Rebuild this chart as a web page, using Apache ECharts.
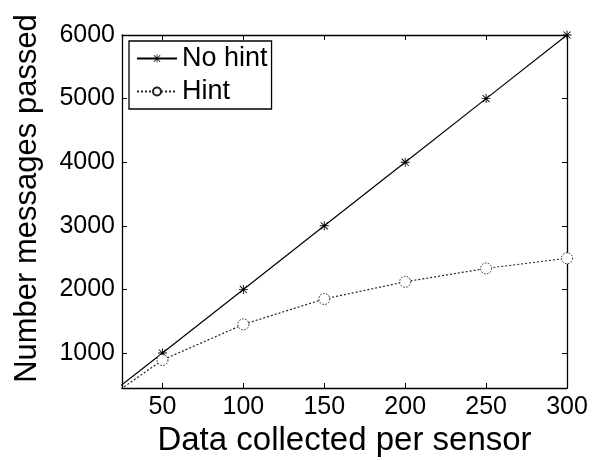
<!DOCTYPE html>
<html>
<head>
<meta charset="utf-8">
<script src="https://cdn.jsdelivr.net/npm/echarts@6/dist/echarts.min.js"></script>
<style>
  html, body { margin: 0; padding: 0; background: #fff; }
  #chart { width: 594px; height: 460px; }
</style>
</head>
<body>
<div id="chart"></div>
<script>
// Data collected per sensor (x) vs. number of messages passed (y)
const dataPerSensor = [0, 50, 100, 150, 200, 250, 300];
const noHint = [0, 1000, 2000, 3000, 4000, 5000, 6000];
const hint = [0, 890, 1450, 1850, 2120, 2330, 2490];
const xTicks = [50, 100, 150, 200, 250, 300];
const yTicks = [1000, 2000, 3000, 4000, 5000, 6000];

const FONT = '"Liberation Sans", Arial, Helvetica, sans-serif';

// asterisk marker: + and x bars overlaid
const asterisk = 'path://M9 0L11 0L11 20L9 20Z M0 9L20 9L20 11L0 11Z ' +
  'M1.4 2.8L2.8 1.4L18.6 17.2L17.2 18.6Z M17.2 1.4L18.6 2.8L2.8 18.6L1.4 17.2Z';

const pairs = (ys) => dataPerSensor.map((x, i) => [x, ys[i]]);
const plain = (v) => String(v);

const axisLine = { show: true, onZero: false, lineStyle: { color: '#000', width: 1.3 } };
const tick = (vals) => ({ show: true, inside: true, length: 5, customValues: vals,
  lineStyle: { color: '#000', width: 1 } });

const chart = echarts.init(document.getElementById('chart'), null, { renderer: 'canvas' });
chart.setOption({
  animation: false,
  backgroundColor: '#fff',
  grid: { left: 122, right: 27, top: 35, bottom: 72, outerBoundsMode: 'none', containLabel: false },
  xAxis: [
    {
      type: 'value', min: 25, max: 300, position: 'bottom',
      axisLine: axisLine, axisTick: tick(xTicks), splitLine: { show: false },
      axisLabel: { customValues: xTicks, formatter: plain, color: '#000', fontFamily: FONT, fontSize: 25, margin: 7 },
      name: 'Data collected per sensor', nameLocation: 'middle', nameGap: 28,
      nameTextStyle: { color: '#000', fontFamily: FONT, fontSize: 33 }
    },
    {
      type: 'value', min: 25, max: 300, position: 'top',
      axisLine: axisLine, axisTick: tick(xTicks), splitLine: { show: false },
      axisLabel: { show: false }
    }
  ],
  yAxis: [
    {
      type: 'value', min: 450, max: 6000, position: 'left',
      axisLine: axisLine, axisTick: tick(yTicks), splitLine: { show: false },
      axisLabel: { customValues: yTicks, formatter: plain, color: '#000', fontFamily: FONT, fontSize: 25, margin: 7 },
      name: 'Number messages passed', nameLocation: 'middle', nameGap: 79, nameRotate: 90,
      nameTextStyle: { color: '#000', fontFamily: FONT, fontSize: 31, padding: [0, 0, 0, 26] }
    },
    {
      type: 'value', min: 450, max: 6000, position: 'right',
      axisLine: axisLine, axisTick: tick(yTicks), splitLine: { show: false },
      axisLabel: { show: false }
    }
  ],
  legend: {
    left: 129, top: 41, orient: 'vertical',
    padding: [4, 4, 4, 7],
    itemGap: 6, itemWidth: 40, itemHeight: 10,
    backgroundColor: '#fff', borderColor: '#000', borderWidth: 1.3, borderRadius: 0,
    textStyle: { color: '#000', fontFamily: FONT, fontSize: 27, padding: [0, 0, 0, 0] },
    data: ['No hint', 'Hint']
  },
  series: [
    {
      name: 'No hint', type: 'line', data: pairs(noHint), clip: true,
      symbol: asterisk, symbolSize: 9, showAllSymbol: true,
      lineStyle: { color: '#000', width: 1.2, type: 'solid' },
      itemStyle: { color: '#000' }
    },
    {
      name: 'Hint', type: 'line', data: pairs(hint), clip: true,
      symbol: 'circle', symbolSize: 11, showAllSymbol: true,
      lineStyle: { color: '#222', width: 1.2, type: [2, 2] },
      itemStyle: { color: '#fff', borderColor: '#222', borderWidth: 1, borderType: [1.5, 1.5] }
    }
  ]
});
</script>
</body>
</html>
